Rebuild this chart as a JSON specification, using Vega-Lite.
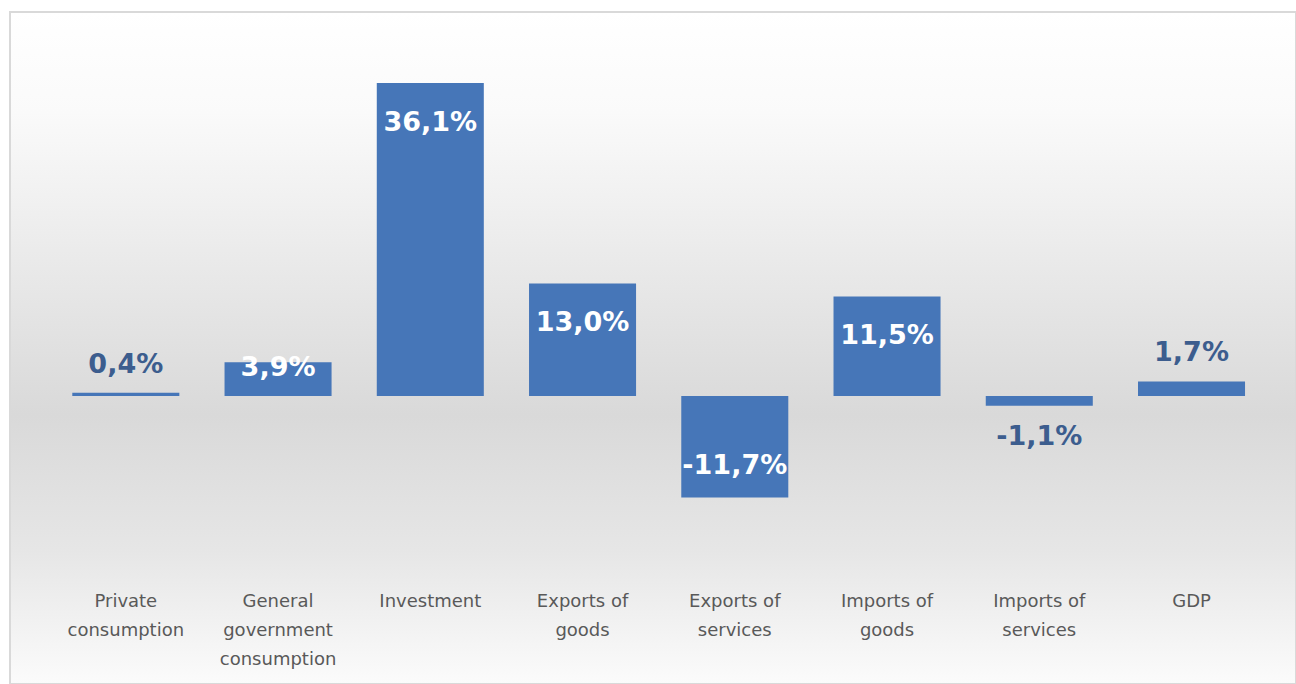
{
  "$schema": "https://vega.github.io/schema/vega-lite/v6.json",
  "width": 1286,
  "height": 672,
  "padding": {"left": 10, "top": 12, "right": 0, "bottom": 0},
  "autosize": {"type": "none"},
  "background": "#ffffff",
  "config": {
    "view": {
      "stroke": "#d9d9d9",
      "strokeWidth": 2,
      "fill": {
        "gradient": "linear",
        "x1": 0, "y1": 0, "x2": 0, "y2": 1,
        "stops": [
          {"offset": 0, "color": "#ffffff"},
          {"offset": 0.15, "color": "#fafafa"},
          {"offset": 0.6, "color": "#d9d9d9"},
          {"offset": 0.8, "color": "#e6e6e6"},
          {"offset": 1, "color": "#fbfbfb"}
        ]
      }
    }
  },
  "data": {
    "values": [
      {"category": "Private|consumption", "value": 0.4, "label": "0,4%"},
      {"category": "General|government|consumption", "value": 3.9, "label": "3,9%"},
      {"category": "Investment", "value": 36.1, "label": "36,1%"},
      {"category": "Exports of|goods", "value": 13.0, "label": "13,0%"},
      {"category": "Exports of|services", "value": -11.7, "label": "-11,7%"},
      {"category": "Imports of|goods", "value": 11.5, "label": "11,5%"},
      {"category": "Imports of|services", "value": -1.1, "label": "-1,1%"},
      {"category": "GDP", "value": 1.7, "label": "1,7%"}
    ]
  },
  "encoding": {
    "x": {
      "field": "category",
      "type": "nominal",
      "sort": null,
      "scale": {"paddingInner": 0.297, "paddingOuter": 0.372, "align": 0.55},
      "axis": {
        "title": null,
        "orient": "bottom",
        "offset": -100,
        "domain": false,
        "ticks": false,
        "labelAngle": 0,
        "labelExpr": "split(datum.label, '|')",
        "labelFont": "DejaVu Sans",
        "labelFontSize": 18,
        "labelColor": "#595959",
        "labelLineHeight": 29,
        "labelPadding": 8,
        "labelBaseline": "top"
      }
    },
    "y": {
      "field": "value",
      "type": "quantitative",
      "scale": {"domain": [-33.2, 44.3], "nice": false, "zero": false},
      "axis": null
    }
  },
  "layer": [
    {
      "mark": {"type": "bar", "color": "#4676b8"},
      "encoding": {"y2": {"datum": 0}}
    },
    {
      "transform": [{"filter": "datum.value > 5"}],
      "mark": {"type": "text", "font": "DejaVu Sans", "fontWeight": "bold", "fontSize": 27, "color": "#ffffff", "baseline": "middle", "dy": 40},
      "encoding": {"text": {"field": "label"}}
    },
    {
      "transform": [{"filter": "datum.value > 3 && datum.value < 5"}],
      "mark": {"type": "text", "font": "DejaVu Sans", "fontWeight": "bold", "fontSize": 27, "color": "#ffffff", "baseline": "middle", "dy": 6},
      "encoding": {"text": {"field": "label"}}
    },
    {
      "transform": [{"filter": "datum.value < -5"}],
      "mark": {"type": "text", "font": "DejaVu Sans", "fontWeight": "bold", "fontSize": 27, "color": "#ffffff", "baseline": "middle", "dy": -32},
      "encoding": {"text": {"field": "label"}}
    },
    {
      "transform": [{"filter": "datum.value > 0 && datum.value < 3"}],
      "mark": {"type": "text", "font": "DejaVu Sans", "fontWeight": "bold", "fontSize": 27, "color": "#3c5d8e", "baseline": "middle", "dy": -28},
      "encoding": {"text": {"field": "label"}}
    },
    {
      "transform": [{"filter": "datum.value < 0 && datum.value > -5"}],
      "mark": {"type": "text", "font": "DejaVu Sans", "fontWeight": "bold", "fontSize": 27, "color": "#3c5d8e", "baseline": "middle", "dy": 31},
      "encoding": {"text": {"field": "label"}}
    }
  ]
}
